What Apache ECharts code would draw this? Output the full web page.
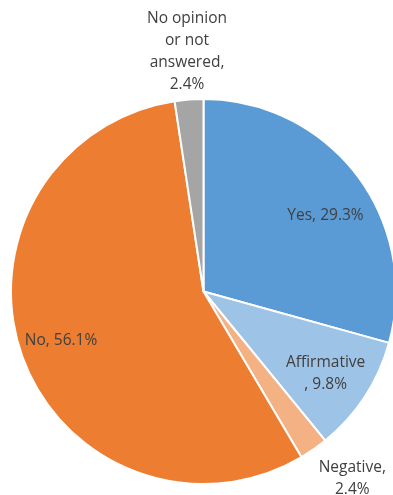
<!DOCTYPE html>
<html>
<head>
<meta charset="utf-8">
<script src="https://cdn.jsdelivr.net/npm/echarts@6/dist/echarts.min.js"></script>
<style>
  html, body { margin: 0; padding: 0; background: #fff; }
  #chart { width: 393px; height: 495px; }
</style>
</head>
<body>
<div id="chart"></div>
<script>
// Survey answer shares (percent), clockwise from 12 o'clock
const categories = ['Yes', 'Affirmative', 'Negative', 'No', 'No opinion or not answered'];
const shares = [29.3, 9.8, 2.4, 56.1, 2.4];
const colors = ['#5B9BD5', '#9DC3E6', '#F4B183', '#ED7D31', '#A5A5A5'];
// Label text before the value, with its line breaks
const labelPrefix = ['Yes, ', 'Affirmative\n, ', 'Negative,\n', 'No, ', 'No opinion\nor not\nanswered,\n'];
// Label nudges away from the default inside position
const labelOffsets = [[43, -16], [39, 28], [92, 106], [-49, 16], [-9, -141]];

const chart = echarts.init(document.getElementById('chart'), null, { renderer: 'canvas' });

chart.setOption({
  animation: false,
  series: [{
    type: 'pie',
    center: [203.5, 291.5],
    radius: 192.5,
    startAngle: 90,
    clockwise: true,
    avoidLabelOverlap: false,
    itemStyle: { borderColor: '#ffffff', borderWidth: 2 },
    label: {
      show: true,
      position: 'inside',
      fontFamily: 'Open Sans',
      fontSize: 15.5,
      lineHeight: 22,
      color: '#404040',
      align: 'center',
      formatter: p => labelPrefix[p.dataIndex] + p.value.toFixed(1) + '%'
    },
    labelLine: { show: false },
    emphasis: { disabled: true },
    data: categories.map((name, i) => ({
      name: name,
      value: shares[i],
      itemStyle: { color: colors[i] },
      label: { offset: labelOffsets[i] }
    }))
  }]
});
</script>
</body>
</html>
